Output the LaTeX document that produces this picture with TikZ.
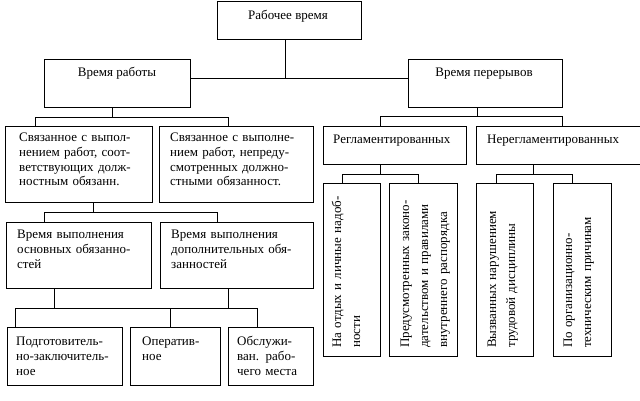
\documentclass[tikz,border=0pt]{standalone}
\usepackage{fontspec}
\setmainfont{Liberation Serif}
\newcommand\bx[5]{\node[box, minimum width=#4pt-#2pt, minimum height=#5pt-#3pt] (#1) at ({(#2+#4)/2},{(#3+#5)/2}) {};}
\begin{document}
\begin{tikzpicture}[x=1pt,y=-1pt,
  box/.style={draw, inner sep=0pt, line width=0.8pt},
  txt/.style={inner sep=0pt, anchor=base west, text width=200pt, align=left, font=\fontsize{13}{14.8}\selectfont},
  rtxt/.style={inner sep=0pt, anchor=base west, text width=200pt, align=left, rotate=90, font=\fontsize{13}{19}\selectfont},
  ctxt/.style={inner sep=0pt, anchor=base, font=\fontsize{13}{14.8}\selectfont},
  link/.style={draw, line width=0.8pt}]
\useasboundingbox (0,0) rectangle (640,400);
\fill[white] (0,0) rectangle (640,400);
% boxes
\bx{root}{217}{1}{361}{39}
\bx{work}{44}{59}{190}{107}
\bx{brk}{408}{59}{562}{107}
\bx{s1}{5}{126}{152}{202}
\bx{s2}{159}{126}{313}{202}
\bx{v1}{6}{222}{151}{288}
\bx{v2}{160}{222}{313}{288}
\bx{b1}{7}{327}{122}{385}
\bx{b2}{130}{327}{220}{385}
\bx{b3}{228}{327}{313}{385}
\bx{r1}{323}{126}{466}{164}
\bx{r2}{476}{126}{648}{164}
\bx{t1}{323}{183}{380}{356}
\bx{t2}{389}{183}{457}{356}
\bx{t3}{476}{183}{533}{356}
\bx{t4}{553}{183}{611}{356}
% texts
\node[ctxt] (troot) at (288,19) {Рабочее время};
\node[ctxt] (twork) at (117,76) {Время работы};
\node[ctxt] (tbrk) at (484,76) {Время перерывов};
\node[txt] (ts1) at (19,141.5) {Связанное с выпол-\\нением работ, соот-\\ветствующих долж-\\ностным обязанн.};
\node[txt] (ts2) at (170,141.5) {Связанное с выполне-\\нием работ, непреду-\\смотренных должно-\\стными обязанност.};
\node[txt] (tv1) at (17,238.5) {Время выполнения\\основных обязанно-\\стей};
\node[txt] (tv2) at (171,238.5) {Время выполнения\\дополнительных обя-\\занностей};
\node[txt] (tb1) at (16,345.5) {Подготовитель-\\но-заключитель-\\ное};
\node[txt] (tb2) at (142,345.5) {Оператив-\\ное};
\node[txt] (tb3) at (237,345.5) {Обслужи-\\ван. рабо-\\чего места};
\node[txt] (tr1) at (333,143.5) {Регламентированных};
\node[txt] (tr2) at (487,143.5) {Нерегламентированных};
\node[rtxt] (tt1) at (341,348) {На отдых и личные надоб-\\ности};
\node[rtxt] (tt2) at (409,348) {Предусмотренных законо-\\дательством и правилами\\внутреннего распорядка};
\node[rtxt] (tt3) at (496,348) {Вызванных нарушением\\трудовой дисциплины};
\node[rtxt] (tt4) at (572,348) {По организационно-\\техническим причинам};
% connectors
\coordinate (j0) at (285,78);
\draw[link] (root.south -| j0) -- (j0);
\draw[link] (work.east |- j0) -- (brk.west |- j0);
\coordinate (j1) at (112,117); \coordinate (a1) at (35,117); \coordinate (a2) at (228,117);
\draw[link] (work.south -| j1) -- (j1);
\draw[link] (s1.north -| a1) -- (a1) -- (a2) -- (s2.north -| a2);
\coordinate (j2) at (93,212); \coordinate (c1) at (44,212); \coordinate (c2) at (217,212);
\draw[link] (s1.south -| j2) -- (j2);
\draw[link] (v1.north -| c1) -- (c1) -- (c2) -- (v2.north -| c2);
\coordinate (j3) at (54,308); \coordinate (j4) at (228,308);
\coordinate (d1) at (15,308); \coordinate (d2) at (170,308); \coordinate (d3) at (257,308);
\draw[link] (v1.south -| j3) -- (j3);
\draw[link] (v2.south -| j4) -- (j4);
\draw[link] (b1.north -| d1) -- (d1) -- (d3) -- (b3.north -| d3);
\draw[link] (d2) -- (b2.north -| d2);
\coordinate (j5) at (477,116); \coordinate (e1) at (380,116); \coordinate (e2) at (562,116);
\draw[link] (brk.south -| j5) -- (j5);
\draw[link] (r1.north -| e1) -- (e1) -- (e2) -- (r2.north -| e2);
\coordinate (j6) at (380,174); \coordinate (f1) at (342,174); \coordinate (f2) at (418,174);
\draw[link] (r1.south -| j6) -- (j6);
\draw[link] (t1.north -| f1) -- (f1) -- (f2) -- (t2.north -| f2);
\coordinate (j7) at (533,174); \coordinate (g1) at (496,174); \coordinate (g2) at (572,174);
\draw[link] (r2.south -| j7) -- (j7);
\draw[link] (t3.north -| g1) -- (g1) -- (g2) -- (t4.north -| g2);
\end{tikzpicture}
\end{document}
